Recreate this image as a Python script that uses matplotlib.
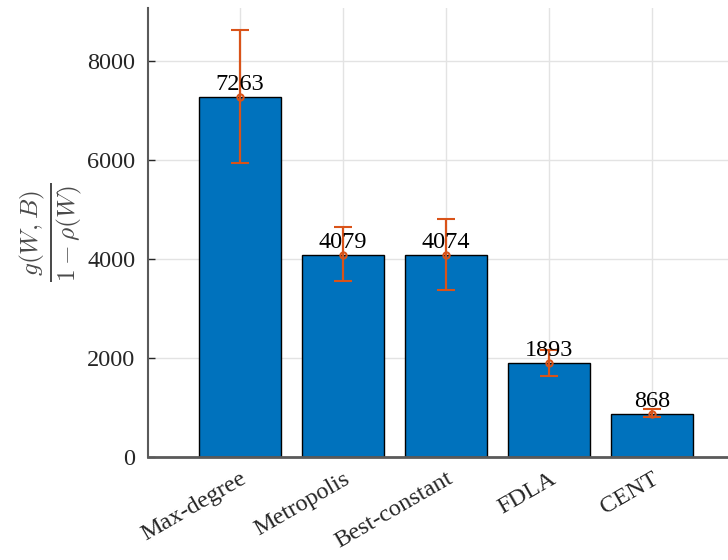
import matplotlib
matplotlib.use('Agg')
import matplotlib.pyplot as plt
import numpy as np

# values
methods = ['Max-degree', 'Metropolis', 'Best-constant', 'FDLA', 'CENT']
means = [7263, 4079, 4074, 1893, 868]
err_low = [1318, 526, 709, 261, 68]
err_high = [1356, 562, 736, 263, 93]

BAR_BLUE = '#0072BD'
ERR_ORANGE = '#D95319'
AX_GRAY = '#262626'

plt.rcParams['font.family'] = ['Liberation Serif', 'DejaVu Serif']
plt.rcParams['mathtext.fontset'] = 'cm'

fig = plt.figure(figsize=(7.28, 5.6), dpi=100)
# axes runs past the right edge, as in the cropped reference
ax = fig.add_axes([148 / 728, 103 / 560, 596 / 728, 449 / 560])

x = np.arange(1, len(methods) + 1)
ax.bar(x, means, width=0.8, color=BAR_BLUE, edgecolor='black', linewidth=1.0, zorder=2)
ax.errorbar(x, means, yerr=[err_low, err_high], fmt='o', color=ERR_ORANGE,
            markersize=4.5, markerfacecolor='none', markeredgewidth=1.5,
            elinewidth=1.6, capsize=6.5, capthick=1.6, zorder=3)

for xi, m in zip(x, means):
    ax.text(xi, m + 40, str(m), ha='center', va='bottom', fontsize=17.5,
            color='black', zorder=4)

ax.set_xlim(0.107, 5.893)
ax.set_ylim(0, 9070)
ax.set_yticks([0, 2000, 4000, 6000, 8000])
ax.set_xticks(x)
ax.set_xticklabels(methods, rotation=30, ha='right', va='top',
                   rotation_mode='anchor')

ax.tick_params(axis='both', direction='in', length=5, width=1.0,
               colors=AX_GRAY, labelsize=17.5)
ax.tick_params(axis='y', pad=9)
ax.tick_params(axis='x', pad=8)

ax.grid(True, color='#e3e3e3', linewidth=1.0, zorder=0)
ax.set_axisbelow(True)

for side in ['top', 'right']:
    ax.spines[side].set_visible(False)
ax.spines['left'].set_color('#5a5a5a')
ax.spines['left'].set_linewidth(1.5)
ax.spines['bottom'].set_color('#5a5a5a')
ax.spines['bottom'].set_linewidth(2.0)

ax.set_ylabel(r'$\frac{g(W,B)}{1-\rho(W)}$', fontsize=26, color='#4a4a4a')
ax.yaxis.set_label_coords(-0.106, 0.5)

fig.savefig('out.png', dpi=100)
